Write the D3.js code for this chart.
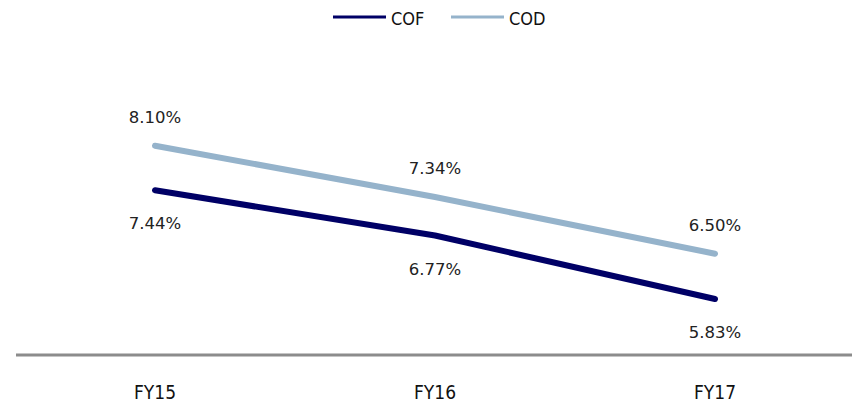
<!DOCTYPE html>
<html>
<head>
<meta charset="utf-8">
<script src="https://cdn.jsdelivr.net/npm/d3@7"></script>
<style>
  html, body { margin: 0; padding: 0; background: #fff; }
  svg { display: block; }
</style>
</head>
<body>
<svg id="chart" width="854" height="402"></svg>
<script>
const categories = ["FY15", "FY16", "FY17"];
const cofValues = [7.44, 6.77, 5.83];
const codValues = [8.10, 7.34, 6.50];
const seriesNames = ["COF", "COD"];
const seriesColors = ["#000066", "#95b3cb"];

const svg = d3.select("#chart");
const W = 854, H = 402;

const x = d3.scaleBand().domain(categories).range([15, 855]);
const cx = c => x(c) + x.bandwidth() / 2;
const y = d3.scaleLinear().domain([5, 9]).range([355, 85]);

const series = [
  { name: seriesNames[0], values: cofValues, color: seriesColors[0], labelPos: "below" },
  { name: seriesNames[1], values: codValues, color: seriesColors[1], labelPos: "above" }
];

// axis line
svg.append("line")
  .attr("x1", 16).attr("x2", 852)
  .attr("y1", y(5)).attr("y2", y(5))
  .attr("stroke", "#8c8c8c").attr("stroke-width", 3);

// category labels
const xAxis = d3.axisBottom(x).tickSize(0).tickPadding(0);
const gx = svg.append("g").attr("transform", `translate(0,${y(5)})`).call(xAxis);
gx.select(".domain").remove();
gx.selectAll("text")
  .attr("y", 44).attr("dy", null)
  .attr("font-family", "'Liberation Sans Narrow', 'DejaVu Sans Condensed', sans-serif")
  .attr("font-size", 19)
  .attr("fill", "#111");

const line = d3.line()
  .x((d, i) => cx(categories[i]))
  .y(d => y(d));

series.forEach(s => {
  svg.append("path")
    .datum(s.values)
    .attr("d", line)
    .attr("fill", "none")
    .attr("stroke", s.color)
    .attr("stroke-width", 6)
    .attr("stroke-linecap", "round")
    .attr("stroke-linejoin", "round");
});

series.forEach(s => {
  svg.selectAll(null)
    .data(s.values)
    .enter().append("text")
    .attr("x", (d, i) => cx(categories[i]))
    .attr("y", d => s.labelPos === "above" ? y(d) - 23 : y(d) + 39)
    .attr("text-anchor", "middle")
    .attr("font-family", "'DejaVu Sans', sans-serif")
    .attr("font-size", 16.5)
    .attr("fill", "#222")
    .text(d => d.toFixed(2) + "%");
});

// legend
const legendX = [333, 451];
series.forEach((s, i) => {
  const g = svg.append("g").attr("transform", `translate(${legendX[i]},17)`);
  g.append("line").attr("x1", 0).attr("x2", 53).attr("y1", 0).attr("y2", 0)
    .attr("stroke", s.color).attr("stroke-width", 3);
  g.append("text").attr("x", 58).attr("y", 8)
    .attr("font-family", "'Liberation Sans Narrow', 'DejaVu Sans Condensed', sans-serif")
    .attr("font-size", 18)
    .attr("fill", "#111")
    .text(s.name);
});
</script>
</body>
</html>
